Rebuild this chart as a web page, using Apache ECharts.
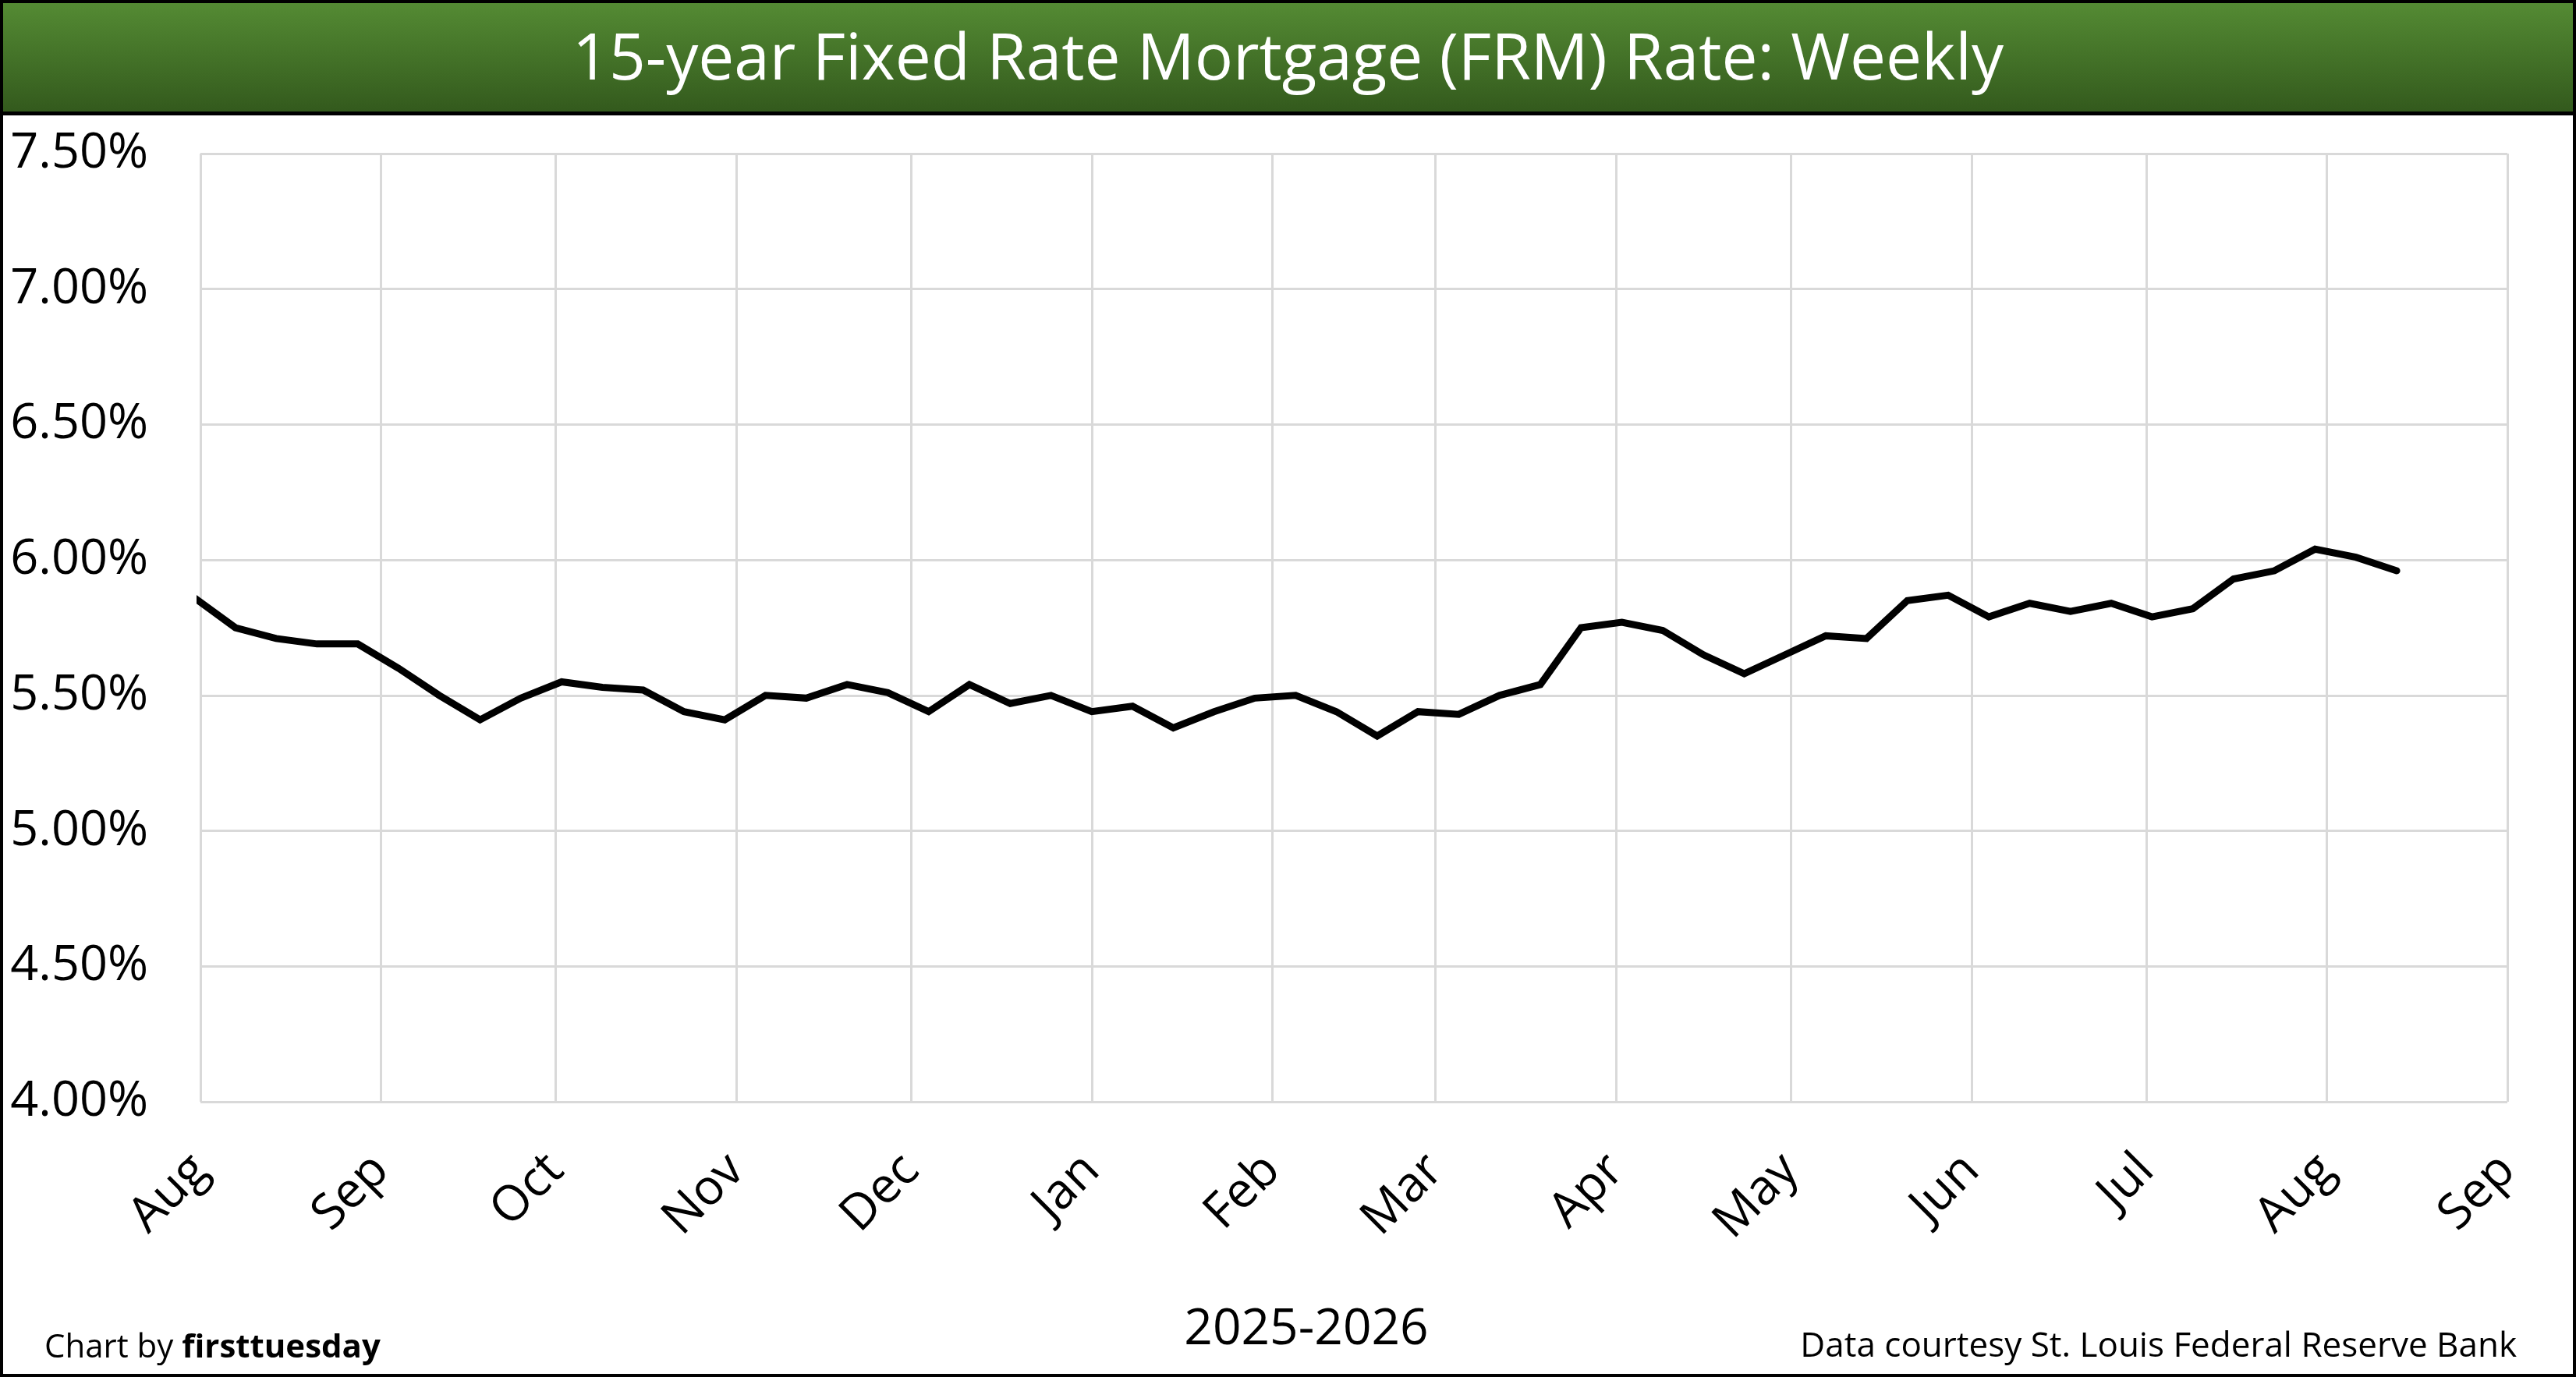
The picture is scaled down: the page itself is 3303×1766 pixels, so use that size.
<!DOCTYPE html>
<html>
<head>
<meta charset="utf-8">
<title>15-year Fixed Rate Mortgage (FRM) Rate: Weekly</title>
<script src="https://cdn.jsdelivr.net/npm/echarts@6.0.0/dist/echarts.min.js"></script>
<style>
  html, body { margin: 0; padding: 0; background: #fff; }
  #chart { width: 3303px; height: 1766px; }
</style>
</head>
<body>
<div id="chart"></div>
<script>
const FONT = "'Open Sans', 'Noto Sans', sans-serif";

// weekly survey dates (Thursdays)
const weekDates = [
  "2025-07-31", "2025-08-07", "2025-08-14", "2025-08-21", "2025-08-28",
  "2025-09-04", "2025-09-11", "2025-09-18", "2025-09-25", "2025-10-02",
  "2025-10-09", "2025-10-16", "2025-10-23", "2025-10-30", "2025-11-06",
  "2025-11-13", "2025-11-20", "2025-11-27", "2025-12-04", "2025-12-11",
  "2025-12-18", "2025-12-25", "2026-01-01", "2026-01-08", "2026-01-15",
  "2026-01-22", "2026-01-29", "2026-02-05", "2026-02-12", "2026-02-19",
  "2026-02-26", "2026-03-05", "2026-03-12", "2026-03-19", "2026-03-26",
  "2026-04-02", "2026-04-09", "2026-04-16", "2026-04-23", "2026-04-30",
  "2026-05-07", "2026-05-14", "2026-05-21", "2026-05-28", "2026-06-04",
  "2026-06-11", "2026-06-18", "2026-06-25", "2026-07-02", "2026-07-09",
  "2026-07-16", "2026-07-23", "2026-07-30", "2026-08-06", "2026-08-13"
];

// 15-year FRM rate, percent
const rateValues = [
  5.86, 5.75, 5.71, 5.69, 5.69,
  5.60, 5.50, 5.41, 5.49, 5.55,
  5.53, 5.52, 5.44, 5.41, 5.50,
  5.49, 5.54, 5.51, 5.44, 5.54,
  5.47, 5.50, 5.44, 5.46, 5.38,
  5.44, 5.49, 5.50, 5.44, 5.35,
  5.44, 5.43, 5.50, 5.54, 5.75,
  5.77, 5.74, 5.65, 5.58, 5.65,
  5.72, 5.71, 5.85, 5.87, 5.79,
  5.84, 5.81, 5.84, 5.79, 5.82,
  5.93, 5.96, 6.04, 6.01, 5.96
];

// x axis ticks, one per month start
const monthTicks = [
  "2025-08-01", "2025-09-01", "2025-10-01", "2025-11-01", "2025-12-01",
  "2026-01-01", "2026-02-01", "2026-03-01", "2026-04-01", "2026-05-01",
  "2026-06-01", "2026-07-01", "2026-08-01", "2026-09-01"
];
const monthNames = ["Jan", "Feb", "Mar", "Apr", "May", "Jun", "Jul", "Aug", "Sep", "Oct", "Nov", "Dec"];

function toTime(str) {
  return echarts.number.parseDate(str).getTime();
}

const tickTimes = monthTicks.map(toTime);

const chart = echarts.init(document.getElementById("chart"));

const gridLine = { show: true, lineStyle: { color: "#d9d9d9", width: 3 } };

chart.setOption({
  backgroundColor: "#ffffff",
  animation: false,
  title: {
    text: "15-year Fixed Rate Mortgage (FRM) Rate: Weekly",
    left: "center",
    top: 33,
    z: 10,
    textStyle: { color: "#ffffff", fontFamily: FONT, fontWeight: "normal", fontSize: 82 }
  },
  graphic: [
    {
      type: "rect",
      z: 0,
      shape: { x: 0, y: 0, width: 3303, height: 148 },
      style: {
        fill: new echarts.graphic.LinearGradient(0, 0, 0, 1, [
          { offset: 0, color: "#558c34" },
          { offset: 1, color: "#32581c" }
        ])
      }
    },
    { type: "rect", z: 1, shape: { x: 0, y: 143, width: 3303, height: 5 }, style: { fill: "#000" } },
    {
      type: "rect",
      z: 1,
      shape: { x: 2, y: 2, width: 3299, height: 1762 },
      style: { fill: null, stroke: "#000", lineWidth: 4 }
    },
    {
      type: "text",
      z: 10,
      x: 1675,
      y: 1706,
      style: {
        text: "2025-2026",
        align: "center",
        verticalAlign: "middle",
        fill: "#000",
        font: "64px " + FONT
      }
    },
    {
      type: "text",
      z: 10,
      x: 57,
      y: 1729,
      style: {
        text: "{n|Chart by }{b|firsttuesday}",
        verticalAlign: "middle",
        fill: "#000",
        rich: {
          n: { fontFamily: FONT, fontSize: 42, fill: "#000" },
          b: { fontFamily: FONT, fontSize: 42, fontWeight: "bold", fill: "#000" }
        }
      }
    },
    {
      type: "text",
      z: 10,
      x: 3227,
      y: 1727,
      style: {
        text: "Data courtesy St. Louis Federal Reserve Bank",
        align: "right",
        verticalAlign: "middle",
        fill: "#000",
        font: "44px " + FONT
      }
    }
  ],
  grid: {
    left: 257,
    right: 88,
    top: 197,
    bottom: 353,
    containLabel: false,
    outerBoundsMode: "none"
  },
  xAxis: {
    type: "value",
    min: tickTimes[0],
    max: tickTimes[tickTimes.length - 1],
    axisLine: { show: false },
    axisTick: { show: false, customValues: tickTimes },
    splitLine: gridLine,
    axisLabel: {
      customValues: tickTimes,
      rotate: 45,
      margin: 78,
      fontFamily: FONT,
      fontSize: 63,
      color: "#000",
      formatter: (value) => monthNames[new Date(value).getMonth()]
    }
  },
  yAxis: {
    type: "value",
    min: 4,
    max: 7.5,
    interval: 0.5,
    axisLine: { show: false },
    axisTick: { show: false },
    splitLine: gridLine,
    axisLabel: {
      margin: 67,
      fontFamily: FONT,
      fontSize: 63,
      color: "#000",
      formatter: (value) => value.toFixed(2) + "%"
    }
  },
  series: [
    {
      name: "15-year FRM",
      type: "line",
      data: weekDates.map((d, i) => [toTime(d), rateValues[i]]),
      showSymbol: false,
      clip: true,
      lineStyle: { color: "#000", width: 9, cap: "round", join: "miter" }
    }
  ]
});

window.addEventListener("resize", () => chart.resize());
</script>
</body>
</html>
